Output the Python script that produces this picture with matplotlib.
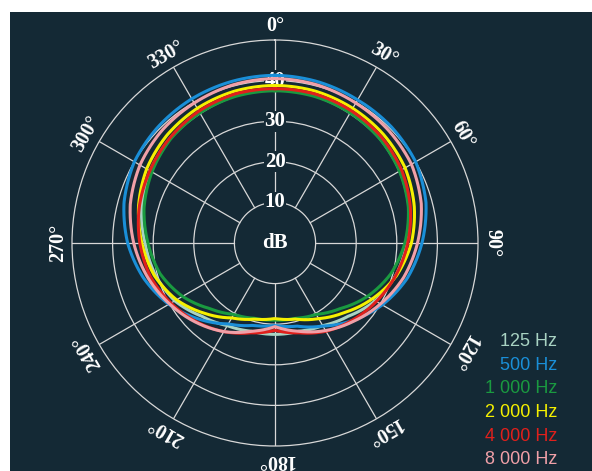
import numpy as np
import matplotlib
matplotlib.use("Agg")
import matplotlib.pyplot as plt

# measurement angles (degrees, clockwise from front)
angles = [0, 15, 30, 45, 60, 75, 90, 105, 120, 135, 150, 165,
          180, 195, 210, 225, 240, 255, 270, 285, 300, 315, 330, 345]

# levels in dB
hz125 = [37.8, 37.6, 37.0, 36.5, 35.5, 34.2, 32.5, 30.8, 28.5, 25.5, 23.5, 22.5,
         22.5, 22.5, 23.5, 25.5, 28.5, 30.5, 32.0, 34.0, 35.5, 36.5, 37.0, 37.6]
hz500 = [41.3, 41.1, 40.7, 40.5, 40.0, 38.5, 36.2, 33.7, 30.5, 27.0, 23.6, 21.2,
         20.3, 21.0, 23.0, 26.5, 30.2, 33.5, 36.3, 38.5, 40.0, 40.6, 41.0, 41.2]
hz1000 = [37.5, 37.4, 37.0, 36.4, 35.4, 34.0, 32.0, 29.5, 26.3, 22.8, 20.3, 19.2,
          19.0, 19.2, 20.3, 22.8, 26.3, 29.3, 31.3, 33.4, 35.0, 36.3, 37.0, 37.4]
hz2000 = [38.8, 38.7, 38.3, 37.8, 37.0, 35.5, 33.6, 31.0, 27.6, 24.2, 21.5, 19.4,
          18.6, 19.4, 21.3, 24.5, 28.0, 30.8, 32.8, 34.8, 36.5, 37.6, 38.3, 38.7]
hz4000 = [38.0, 38.0, 37.6, 37.0, 36.0, 34.5, 32.7, 30.8, 28.8, 26.9, 25.1, 22.9,
          21.5, 22.9, 25.2, 27.4, 29.6, 31.8, 33.3, 34.6, 35.6, 36.6, 37.5, 38.0]
hz8000 = [40.5, 40.3, 39.8, 39.4, 38.8, 37.3, 35.1, 32.8, 30.0, 27.3, 24.9, 22.5,
          20.6, 22.5, 25.2, 27.6, 30.0, 32.5, 34.8, 36.9, 38.4, 39.3, 39.8, 40.3]

labels = ["125 Hz", "500 Hz", "1 000 Hz", "2 000 Hz", "4 000 Hz", "8 000 Hz"]
colors = ["#a9d3c3", "#1a8fd8", "#1a9a40", "#f5f000", "#e0201c", "#f0a0a8"]
series = [hz125, hz500, hz1000, hz2000, hz4000, hz8000]

ring_vals = [10, 20, 30, 40]
spoke_angles = list(range(0, 360, 30))

bg = "#142935"
grid_c = "#d8d8d8"
serif = "Liberation Serif"

fig = plt.figure(figsize=(5.92, 4.71), dpi=100)
fig.patch.set_facecolor("white")
# dark panel (white strip on top and left)
fig.patches.append(plt.Rectangle((10 / 592, 0), 582 / 592, 459 / 471,
                                 transform=fig.transFigure, facecolor=bg,
                                 edgecolor="none", zorder=-10))

ax = fig.add_axes([72 / 592, 25 / 471, 406 / 592, 406 / 471], projection="polar")
ax.set_facecolor(bg)
ax.set_theta_zero_location("N")
ax.set_theta_direction(-1)
ax.set_ylim(0, 50)
ax.set_xticks([])
ax.set_yticks(ring_vals)
ax.set_yticklabels([])
ax.yaxis.grid(True, color=grid_c, lw=0.9)
ax.xaxis.grid(False)
ax.spines["polar"].set_color(grid_c)
ax.spines["polar"].set_linewidth(0.9)
ax.tick_params(length=0)

# spokes stop at the inner 10 dB circle
for a in spoke_angles:
    t = np.deg2rad(a)
    ax.plot([t, t], [10, 50], color=grid_c, lw=0.9, zorder=1)
    ax.text(t, 53.5, f"{a}°", rotation=-a, rotation_mode="anchor",
            ha="center", va="center", color="white", fontsize=14.5,
            fontfamily=serif, fontweight="bold")

for v in ring_vals:
    ax.text(0, v, str(v), ha="center", va="center", color="white",
            fontsize=15, fontfamily=serif, fontweight="bold", zorder=2,
            bbox=dict(facecolor=bg, edgecolor="none", pad=0.3))

ax.text(0, 0, "dB", ha="center", va="center", color="white", fontsize=15,
        fontfamily=serif, fontweight="bold")

for vals, col in zip(series, colors):
    th = np.deg2rad(angles + [360])
    r = vals + [vals[0]]
    line, = ax.plot(th, r, color=col, lw=2.2, zorder=3)
    # draw segments as arcs in polar space
    line.get_path()._interpolation_steps = 30

for i, (lab, col) in enumerate(zip(labels, colors)):
    y = 1 - (341.5 + i * 23.7) / 471
    fig.text(557 / 592, y, lab, color=col, ha="right", va="center",
             fontsize=13, fontfamily="Liberation Sans")

fig.savefig("out.png", dpi=100, facecolor=fig.get_facecolor())
